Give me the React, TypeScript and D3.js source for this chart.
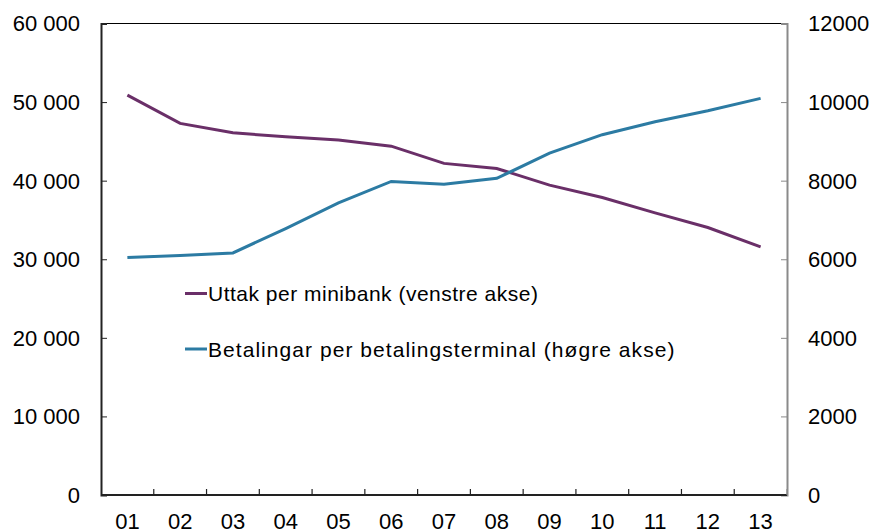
import React, { useEffect, useRef } from 'react';
import * as d3 from 'd3';

// years (2001-2013), labels as shown on the x axis
const years = ['01', '02', '03', '04', '05', '06', '07', '08', '09', '10', '11', '12', '13'];
// Uttak per minibank (left axis)
const withdrawals = [50890, 47290, 46090, 45580, 45160, 44390, 42200, 41550, 39430, 37860, 35900, 34040, 31570];
// Betalingar per betalingsterminal (right axis)
const payments = [6043, 6094, 6160, 6782, 7434, 7980, 7911, 8059, 8700, 9170, 9498, 9778, 10094];

const leftTicks = [0, 10000, 20000, 30000, 40000, 50000, 60000];
const rightTicks = [0, 2000, 4000, 6000, 8000, 10000, 12000];
const legendLabels = ['Uttak per minibank (venstre akse)', 'Betalingar per betalingsterminal (høgre akse)'];

const W = 873;
const H = 532;
const purple = '#6a2f68';
const blue = '#2c7ba3';
const font = '"Liberation Sans", Arial, Helvetica, sans-serif';
const axisSize = 22;

const App = () => {
  const ref = useRef<SVGSVGElement>(null);

  useEffect(() => {
    document.body.style.margin = '0';
    const svg = d3.select(ref.current);
    svg.selectAll('*').remove();

    const left = 101, right = 787, top = 23.5, bottom = 495;

    const x = d3.scaleBand().domain(years).range([left, right]);
    const yL = d3.scaleLinear().domain([0, 60000]).range([bottom, top]);
    const yR = d3.scaleLinear().domain([0, 12000]).range([bottom, top]);
    const fmt = (v: number) => d3.format(',')(v).replace(/,/g, ' ');

    // top border
    svg.append('line')
      .attr('x1', left).attr('x2', right)
      .attr('y1', top).attr('y2', top)
      .attr('stroke', '#000').attr('stroke-width', 1);

    // right axis (gray)
    const gR = svg.append('g').attr('transform', `translate(${right},0)`)
      .call(d3.axisLeft(yR).tickValues(rightTicks).tickSize(6).tickFormat(() => ''));
    gR.select('.domain').attr('stroke', '#8a8a8a').attr('stroke-width', 2);
    gR.selectAll('.tick line').attr('stroke', '#8a8a8a');
    svg.append('g').selectAll('text')
      .data(rightTicks)
      .join('text')
      .attr('x', 808)
      .attr('y', d => yR(d))
      .attr('dy', '0.36em')
      .attr('font-family', font)
      .attr('font-size', axisSize)
      .attr('fill', '#000')
      .text(d => String(d));

    // left axis
    const gL = svg.append('g').attr('transform', `translate(${left},0)`)
      .call(d3.axisRight(yL).tickValues(leftTicks).tickSize(6).tickFormat(() => ''));
    gL.select('.domain').attr('stroke', '#222').attr('stroke-width', 2);
    gL.selectAll('.tick line').attr('stroke', '#222');
    svg.append('g').selectAll('text')
      .data(leftTicks)
      .join('text')
      .attr('x', 80)
      .attr('y', d => yL(d))
      .attr('dy', '0.36em')
      .attr('text-anchor', 'end')
      .attr('font-family', font)
      .attr('font-size', axisSize)
      .attr('fill', '#000')
      .text(d => fmt(d));

    // bottom axis, ticks at band boundaries pointing up
    const gB = svg.append('g').attr('transform', `translate(0,${bottom})`);
    gB.append('line')
      .attr('x1', left).attr('x2', right)
      .attr('stroke', '#222').attr('stroke-width', 2);
    gB.selectAll('line.tk')
      .data(years)
      .join('line')
      .attr('class', 'tk')
      .attr('x1', d => (x(d) as number) + x.bandwidth())
      .attr('x2', d => (x(d) as number) + x.bandwidth())
      .attr('y1', 0).attr('y2', -6)
      .attr('stroke', (d, i) => i === years.length - 1 ? '#8a8a8a' : '#222')
      .attr('stroke-width', 1.2);
    gB.selectAll('text')
      .data(years)
      .join('text')
      .attr('x', d => (x(d) as number) + x.bandwidth() / 2)
      .attr('y', 33.5)
      .attr('text-anchor', 'middle')
      .attr('font-family', font)
      .attr('font-size', axisSize)
      .attr('fill', '#000')
      .text(d => d);

    const cx = (_: number, i: number) => (x(years[i]) as number) + x.bandwidth() / 2;

    svg.append('path')
      .datum(withdrawals)
      .attr('fill', 'none')
      .attr('stroke', purple)
      .attr('stroke-width', 3)
      .attr('d', d3.line<number>().x(cx).y(d => yL(d)));

    svg.append('path')
      .datum(payments)
      .attr('fill', 'none')
      .attr('stroke', blue)
      .attr('stroke-width', 3)
      .attr('d', d3.line<number>().x(cx).y(d => yR(d)));

    // legend
    const legend = svg.append('g')
      .selectAll('g')
      .data(legendLabels)
      .join('g')
      .attr('transform', (d, i) => `translate(185,${293.5 + i * 55.5})`);
    legend.append('line')
      .attr('x1', 0).attr('x2', 22)
      .attr('stroke', (d, i) => i === 0 ? purple : blue)
      .attr('stroke-width', 3);
    legend.append('text')
      .attr('x', 23)
      .attr('dy', '0.36em')
      .attr('font-family', font)
      .attr('font-size', 21)
      .attr('letter-spacing', (d, i) => i === 0 ? 0.5 : 1.05)
      .attr('fill', '#000')
      .text(d => d);
  }, []);

  return (
    <svg ref={ref} width={W} height={H} style={{ display: 'block', background: '#fff' }}></svg>
  );
};

export default App;
